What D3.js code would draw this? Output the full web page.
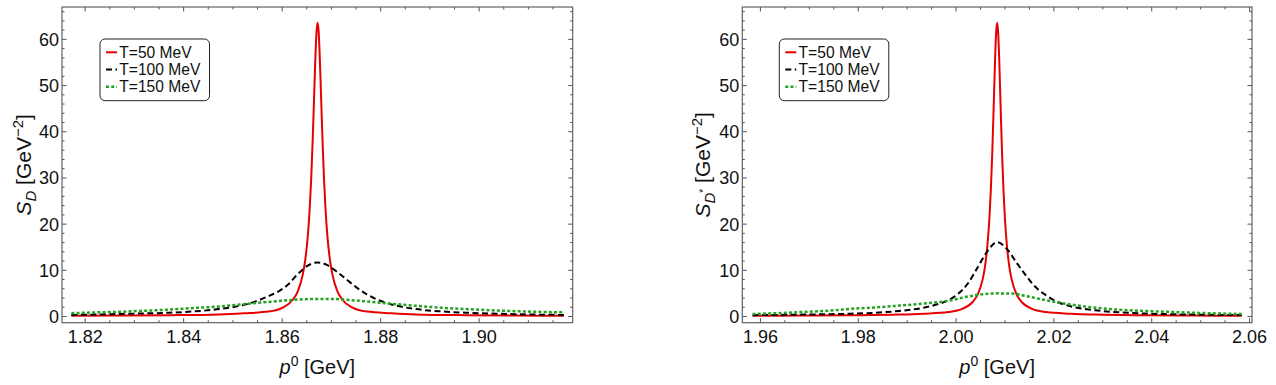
<!DOCTYPE html>
<html><head><meta charset="utf-8">
<script src="https://cdn.jsdelivr.net/npm/d3@7"></script>
<style>
body{margin:0;background:#fff;}
svg{display:block;}
text{font-family:"Liberation Sans",Arial,Helvetica,sans-serif;fill:#111;}
</style></head><body>
<svg id="c" width="1276" height="385"></svg>
<script>
// ---------- data ----------
const seriesNames = ["T=50 MeV", "T=100 MeV", "T=150 MeV"];
const yTicks = [0, 10, 20, 30, 40, 50, 60];
const xTicksD = [1.82, 1.84, 1.86, 1.88, 1.90];
const xTicksDs = [1.96, 1.98, 2.00, 2.02, 2.04, 2.06];

// Left panel: D meson
const dX50 = [1.8173,1.8273,1.8373,1.8473,1.8523,1.8573,1.8603,1.8623,1.8633,1.8643,1.8648,1.8653,1.8657,1.8660,1.8663,1.8665,1.8667,1.8669,1.8671,1.8673,1.8675,1.8677,1.8679,1.8681,1.8683,1.8686,1.8689,1.8693,1.8698,1.8703,1.8713,1.8723,1.8743,1.8773,1.8823,1.8873,1.8973,1.9073,1.9173];
const dY50 = [0.07,0.1,0.17,0.35,0.6,0.95,1.87,3.57,5.4,9.0,12.2,17.2,23.3,29.7,38.0,44.4,51.1,57.3,61.8,63.5,61.8,57.3,51.1,44.4,38.0,29.7,23.3,17.2,12.2,9.0,5.4,3.57,1.87,0.95,0.6,0.35,0.17,0.1,0.07];
const dX100 = [1.8173,1.8273,1.8373,1.8423,1.8473,1.8523,1.8553,1.8573,1.8593,1.8613,1.8633,1.8653,1.8673,1.8693,1.8713,1.8733,1.8753,1.8773,1.8793,1.8823,1.8873,1.8923,1.8973,1.9073,1.9173];
const dY100 = [0.2,0.45,0.72,1.0,1.5,2.4,3.4,4.3,5.3,6.8,9.1,10.9,11.6,11.0,9.5,7.8,6.1,4.7,3.6,2.5,1.5,1.0,0.72,0.4,0.22];
const dX150 = [1.8173,1.8223,1.8273,1.8323,1.8373,1.8423,1.8473,1.8523,1.8573,1.8613,1.8643,1.8673,1.8703,1.8733,1.8773,1.8823,1.8873,1.8923,1.8973,1.9023,1.9073,1.9123,1.9173];
const dY150 = [0.62,0.78,0.92,1.15,1.4,1.75,2.05,2.55,3.05,3.4,3.62,3.7,3.68,3.5,3.15,2.65,2.2,1.8,1.5,1.25,1.05,0.9,0.78];

// Right panel: D* meson
const dsX50 = [1.9585,1.9685,1.9785,1.9885,1.9935,1.9985,2.0015,2.0035,2.0045,2.0055,2.0060,2.0065,2.0069,2.0072,2.0075,2.0077,2.0079,2.0081,2.0083,2.0085,2.0087,2.0089,2.0091,2.0093,2.0095,2.0098,2.0101,2.0105,2.0110,2.0115,2.0125,2.0135,2.0155,2.0185,2.0235,2.0285,2.0385,2.0485,2.0585];
const dsY50 = [0.06,0.09,0.15,0.3,0.5,0.85,1.6,3.03,4.61,7.77,10.6,15.2,20.9,27.1,35.3,42.1,49.3,56.3,61.5,63.5,61.5,56.3,49.3,42.1,35.3,27.1,20.9,15.2,10.6,7.77,4.61,3.03,1.6,0.85,0.5,0.3,0.15,0.09,0.06];
const dsX100 = [1.9585,1.9685,1.9785,1.9835,1.9885,1.9935,1.9965,1.9985,2.0005,2.0025,2.0045,2.0065,2.0085,2.0105,2.0125,2.0145,2.0165,2.0185,2.0205,2.0235,2.0285,2.0335,2.0385,2.0485,2.0585];
const dsY100 = [0.18,0.3,0.5,0.7,1.1,1.8,2.6,3.4,4.8,7.0,10.5,14.0,16.0,14.5,11.5,8.6,6.1,4.5,3.2,2.1,1.25,0.8,0.55,0.3,0.2];
const dsX150 = [1.9585,1.9635,1.9685,1.9735,1.9785,1.9835,1.9885,1.9935,1.9985,2.0025,2.0055,2.0085,2.0115,2.0145,2.0185,2.0235,2.0285,2.0335,2.0385,2.0435,2.0485,2.0535,2.0585];
const dsY150 = [0.43,0.6,0.85,1.1,1.55,1.85,2.25,2.7,3.3,4.2,4.7,4.9,4.85,4.3,3.4,2.5,1.8,1.35,1.1,0.9,0.72,0.55,0.43];

// ---------- styles / layout ----------
const styles = [
  {color:"#e60000", width:2, dash:null},
  {color:"#000000", width:2, dash:"6,3.5"},
  {color:"#22a322", width:2.5, dash:"3,2.2"}
];
const frameTop = 7, frameBottom = 322.7;
const yDomain = [-1.45, 66.9];

const panels = [
  {left:62, right:572.7, xDomain:[1.8154,1.9191], xTicks:xTicksD,
   xs:[dX50,dX100,dX150], ys:[dY50,dY100,dY150], star:false, legendX:100, ylabX:31},
  {left:742.3, right:1252, xDomain:[1.9564,2.0606], xTicks:xTicksDs,
   xs:[dsX50,dsX100,dsX150], ys:[dsY50,dsY100,dsY150], star:true, legendX:779.3, ylabX:710}
];

const svg = d3.select("#c");
svg.append("rect").attr("width",1276).attr("height",385).attr("fill","#fff");

const frameColor = "#555";

panels.forEach((p, pi) => {
  const x = d3.scaleLinear().domain(p.xDomain).range([p.left, p.right]);
  const y = d3.scaleLinear().domain(yDomain).range([frameBottom, frameTop]);
  const g = svg.append("g");

  const clipId = "clip" + pi;
  svg.append("defs").append("clipPath").attr("id", clipId)
    .append("rect").attr("x", p.left).attr("y", frameTop)
    .attr("width", p.right - p.left).attr("height", frameBottom - frameTop);

  const step = 0.005;
  const xMinor = d3.range(Math.ceil(p.xDomain[0]/step - 1e-9), Math.floor(p.xDomain[1]/step + 1e-9) + 1)
    .map(i => +(i*step).toFixed(4))
    .filter(v => !p.xTicks.some(t => Math.abs(t - v) < 1e-6));
  const yMinor = d3.range(0, 67, 2).filter(v => v % 10 !== 0);

  function styleAxis(sel){
    sel.select(".domain").remove();
    sel.selectAll("line").attr("stroke", frameColor).attr("stroke-width", 1);
  }

  const axB = g.append("g").attr("transform", `translate(0,${frameBottom})`)
    .call(d3.axisBottom(x).tickValues(p.xTicks).tickSize(-4.5).tickFormat(d3.format(".2f")));
  styleAxis(axB);
  axB.selectAll("text").attr("y", 20).attr("dy", null)
    .attr("font-size", 18).attr("fill", "#111")
    .attr("font-family", '"Liberation Sans",Arial,sans-serif');
  const axBm = g.append("g").attr("transform", `translate(0,${frameBottom})`)
    .call(d3.axisBottom(x).tickValues(xMinor).tickSize(-2.5).tickFormat(""));
  styleAxis(axBm);
  const axT = g.append("g").attr("transform", `translate(0,${frameTop})`)
    .call(d3.axisTop(x).tickValues(p.xTicks).tickSize(-4.5).tickFormat(""));
  styleAxis(axT);
  const axTm = g.append("g").attr("transform", `translate(0,${frameTop})`)
    .call(d3.axisTop(x).tickValues(xMinor).tickSize(-2.5).tickFormat(""));
  styleAxis(axTm);
  const axL = g.append("g").attr("transform", `translate(${p.left},0)`)
    .call(d3.axisLeft(y).tickValues(yTicks).tickSize(-4.5).tickPadding(3).tickFormat(d3.format("d")));
  styleAxis(axL);
  axL.selectAll("text").attr("dy", "0.36em").attr("font-size", 18).attr("fill", "#111")
    .attr("font-family", '"Liberation Sans",Arial,sans-serif');
  const axLm = g.append("g").attr("transform", `translate(${p.left},0)`)
    .call(d3.axisLeft(y).tickValues(yMinor).tickSize(-2.5).tickFormat(""));
  styleAxis(axLm);
  const axR = g.append("g").attr("transform", `translate(${p.right},0)`)
    .call(d3.axisRight(y).tickValues(yTicks).tickSize(-4.5).tickFormat(""));
  styleAxis(axR);
  const axRm = g.append("g").attr("transform", `translate(${p.right},0)`)
    .call(d3.axisRight(y).tickValues(yMinor).tickSize(-2.5).tickFormat(""));
  styleAxis(axRm);

  g.append("rect").attr("x", p.left).attr("y", frameTop)
    .attr("width", p.right - p.left).attr("height", frameBottom - frameTop)
    .attr("fill", "none").attr("stroke", frameColor).attr("stroke-width", 1.1);

  const line = d3.line().x(d => x(d[0])).y(d => y(d[1])).curve(d3.curveMonotoneX);
  const cg = g.append("g").attr("clip-path", `url(#${clipId})`);
  p.xs.forEach((xs, si) => {
    const pts = xs.map((v, i) => [v, p.ys[si][i]]);
    const st = styles[si];
    cg.append("path").attr("d", line(pts)).attr("fill", "none")
      .attr("stroke", st.color).attr("stroke-width", st.width)
      .attr("stroke-dasharray", st.dash).attr("stroke-linejoin", "round");
  });

  const cx = (p.left + p.right) / 2;
  const xl = g.append("text").attr("x", cx).attr("y", 373.5)
    .attr("text-anchor", "middle").attr("font-size", 20);
  xl.append("tspan").attr("font-style", "italic").text("p");
  xl.append("tspan").attr("font-size", 14).attr("dy", -8).text("0");
  xl.append("tspan").attr("dy", 8).text("\u00a0[GeV]");

  const cy = (frameTop + frameBottom) / 2;
  const yl = g.append("text").attr("transform", `translate(${p.ylabX},${cy}) rotate(-90)`)
    .attr("text-anchor", "middle").attr("font-size", 21);
  yl.append("tspan").attr("font-style", "italic").text("S");
  yl.append("tspan").attr("font-style", "italic").attr("font-size", 15).attr("dy", 5).text("D");
  if (p.star) {
    yl.append("tspan").attr("font-size", 10).attr("dy", -8).text("*");
    yl.append("tspan").attr("dy", 3).text("\u00a0[GeV");
  } else {
    yl.append("tspan").attr("dy", -5).text("\u00a0[GeV");
  }
  yl.append("tspan").attr("font-size", 15).attr("dy", -8).text("\u2212" + "2");
  yl.append("tspan").attr("dy", 8).text("]");

  const lg = g.append("g");
  lg.append("rect").attr("x", p.legendX).attr("y", 39).attr("width", 109.5).attr("height", 61.7)
    .attr("rx", 5).attr("fill", "#fff").attr("stroke", "#222").attr("stroke-width", 1);
  seriesNames.forEach((name, si) => {
    const ry = 52.3 + si * 17.2;
    const st = styles[si];
    lg.append("line").attr("x1", p.legendX + 6).attr("x2", p.legendX + 17)
      .attr("y1", ry).attr("y2", ry)
      .attr("stroke", st.color).attr("stroke-width", st.width)
      .attr("stroke-dasharray", st.dash);
    lg.append("text").attr("x", p.legendX + 19.3).attr("y", ry + 5.4)
      .attr("font-size", 15.6).text(name);
  });
});
</script>
</body></html>
